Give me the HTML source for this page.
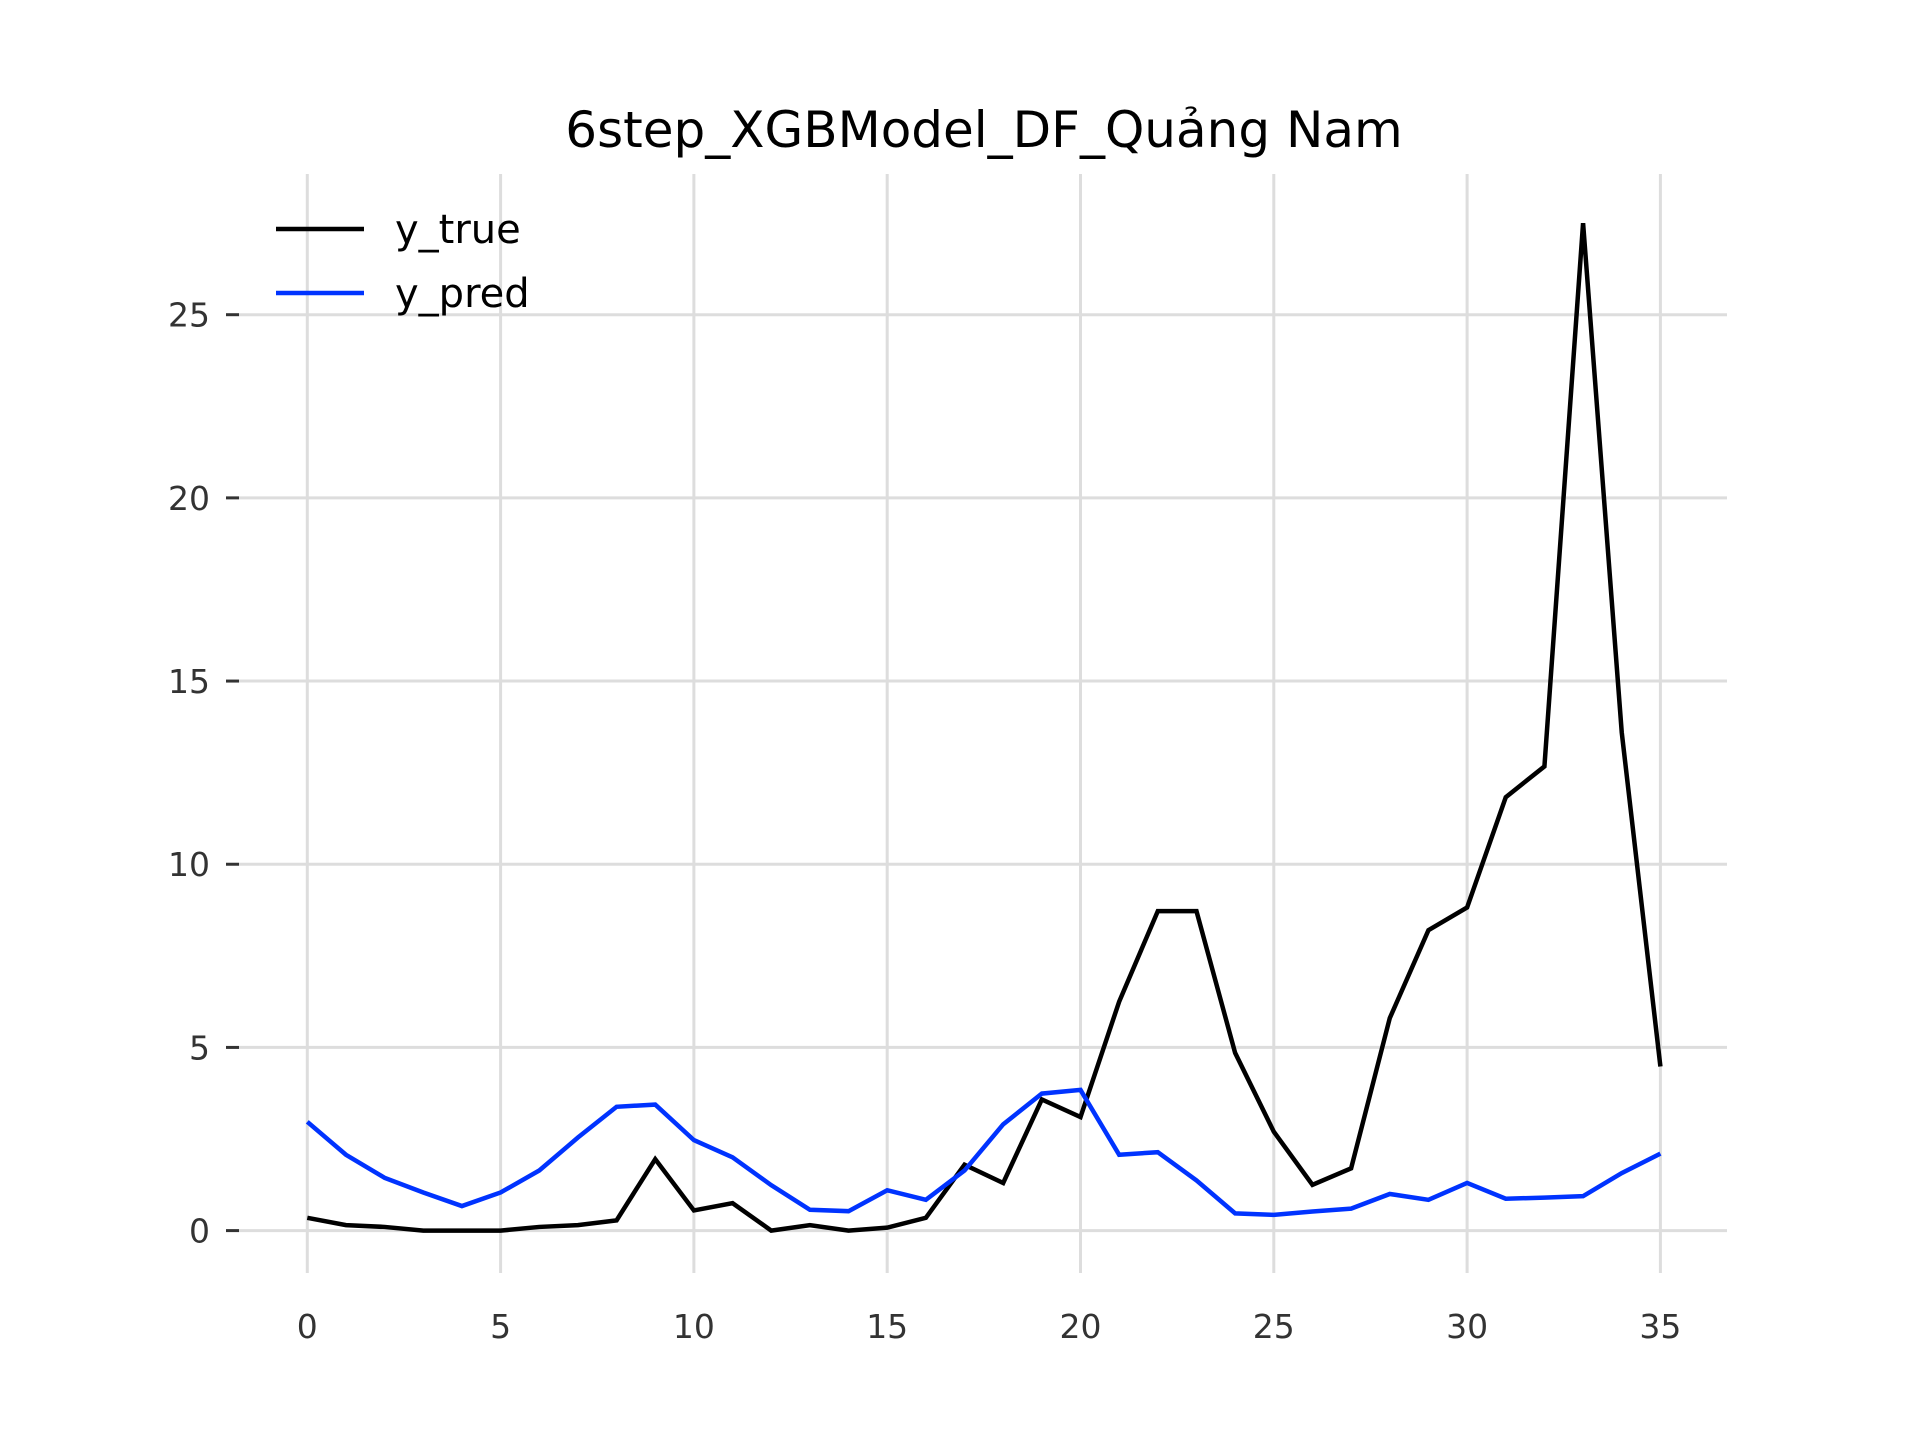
<!DOCTYPE html>
<html><head><meta charset="utf-8"><style>
html,body{margin:0;padding:0;background:#fff;}
svg{display:block;font-family:"DejaVu Sans","Liberation Sans",sans-serif;}
</style></head><body>
<svg id="chart" width="1920" height="1440">
<text x="984" y="147" text-anchor="middle" font-size="50" fill="#000">6step_XGBModel_DF_Quảng Nam</text>
<g id="grid"></g>
<g id="series"></g>
<g>
<line x1="276" y1="229" x2="364" y2="229" stroke="#000" stroke-width="4.5"/>
<text x="395" y="243" font-size="40" fill="#000">y_true</text>
<line x1="276" y1="293" x2="364" y2="293" stroke="#0033ff" stroke-width="4.5"/>
<text x="395" y="307" font-size="40" fill="#000">y_pred</text>
</g>
</svg>
<script>
const xTicks=[0,5,10,15,20,25,30,35];
const yTicks=[0,5,10,15,20,25];
const yTrue=[0.35,0.15,0.1,0,0,0,0.1,0.15,0.28,1.95,0.55,0.75,0,0.15,0,0.08,0.35,1.8,1.3,3.58,3.1,6.25,8.72,8.72,4.85,2.7,1.25,1.7,5.8,8.2,8.82,11.83,12.67,27.5,13.6,4.48];
const yPred=[2.97,2.07,1.44,1.04,0.67,1.04,1.64,2.54,3.38,3.44,2.47,2.0,1.24,0.57,0.53,1.1,0.84,1.64,2.9,3.74,3.84,2.07,2.14,1.37,0.47,0.43,0.52,0.6,1.0,0.84,1.3,0.87,0.9,0.94,1.57,2.1];
const NS='http://www.w3.org/2000/svg';
const sx=v=>307.3+v*(1660.4-307.3)/35;
const sy=v=>1230.6-v*(1230.6-314.7)/25;
const grid=document.getElementById('grid');
const series=document.getElementById('series');
function mk(tag,attrs,parent){const e=document.createElementNS(NS,tag);for(const k in attrs)e.setAttribute(k,attrs[k]);parent.appendChild(e);return e;}
xTicks.forEach(t=>{
  const l=mk('line',{x1:sx(t),x2:sx(t),y1:174,y2:1273,stroke:'#dddddd','stroke-width':3},grid);
  
  
  const tx=mk('text',{x:sx(t),y:1338,'text-anchor':'middle','font-size':33,fill:'#333'},grid);
  tx.textContent=t;
  
  
});
yTicks.forEach(t=>{
  const l=mk('line',{x1:239,x2:1727,y1:sy(t),y2:sy(t),stroke:'#dddddd','stroke-width':3},grid);
  
  
  const m=mk('line',{x1:226,x2:239,y1:sy(t),y2:sy(t),stroke:'#333','stroke-width':3},grid);
  
  
  const tx=mk('text',{x:210,y:sy(t)+12,'text-anchor':'end','font-size':33,fill:'#333'},grid);
  tx.textContent=t;
  
  
});
function line(vals,color,name){
  const p=mk('polyline',{points:vals.map((v,i)=>sx(i)+','+sy(v)).join(' '),fill:'none',stroke:color,'stroke-width':4.5,'stroke-linejoin':'miter'},series);
  
  
}
line(yTrue,'#000000','y-true-line');
line(yPred,'#0033ff','y-pred-line');
</script>
</body></html>
